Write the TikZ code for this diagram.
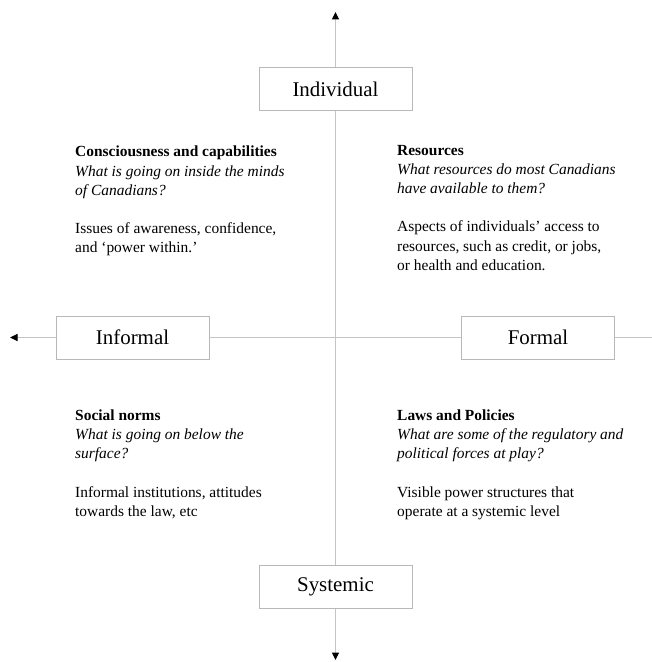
\documentclass[tikz,border=0pt]{standalone}
\usepackage{fontspec}
\setmainfont{Liberation Serif}
\usetikzlibrary{arrows.meta}
\definecolor{axisgray}{HTML}{C4C4C4}
\definecolor{boxgray}{HTML}{B8B8B8}
\tikzset{
  axis/.style={draw=axisgray, line width=1bp},
  axisarrow/.style={axis, -{Triangle[length=7.5bp,width=7bp,color=black,fill=black]}},
  labelbox/.style={draw=boxgray, line width=0.9bp, fill=white, minimum width=153bp, minimum height=43bp, inner sep=0pt, font=\fontsize{21}{25}\selectfont},
  textblock/.style={anchor=north west, inner sep=0pt, align=left, font=\fontsize{15.5}{19.2}\selectfont}
}
\begin{document}
\begin{tikzpicture}[x=1bp,y=-1bp]
\useasboundingbox (0,0) rectangle (652,662);
% axis end points
\coordinate (top) at (335.5,12);
\coordinate (bottom) at (335.5,660);
\coordinate (left) at (10,337.5);
\coordinate (right) at (652,337.5);
% boxes
\node[labelbox] (ind) at (335.5,89) {Individual};
\node[labelbox] (sys) at (335.5,587) {Systemic};
\node[labelbox] (inf) at (132.5,337.5) {Informal};
\node[labelbox] (for) at (538,337.5) {Formal};
% axes
\draw[axisarrow] (ind.north) -- (top);
\draw[axisarrow] (sys.south) -- (bottom);
\draw[axisarrow] (inf.west) -- (left);
\draw[axis] (for.east) -- (right);
\draw[axis] (ind.south) -- (sys.north);
\draw[axis] (inf.east) -- (for.west);
% text blocks
\node[textblock] (tl) at (75,146) {\textbf{Consciousness and capabilities}\\
\textit{What is going on inside the minds}\\
\textit{of Canadians?}\\[19.2bp]
Issues of awareness, confidence,\\
and `power within.'};
\node[textblock] (tr) at (397,145) {\textbf{Resources}\\
\textit{What resources do most Canadians}\\
\textit{have available to them?}\\[19.2bp]
Aspects of individuals' access to\\
resources, such as credit, or jobs,\\
or health and education.};
\node[textblock] (bl) at (75,409.5) {\textbf{Social norms}\\
\textit{What is going on below the}\\
\textit{surface?}\\[19.2bp]
Informal institutions, attitudes\\
towards the law, etc};
\node[textblock] (br) at (397,409.5) {\textbf{Laws and Policies}\\
\textit{What are some of the regulatory and}\\
\textit{political forces at play?}\\[19.2bp]
Visible power structures that\\
operate at a systemic level};
\end{tikzpicture}
\end{document}
